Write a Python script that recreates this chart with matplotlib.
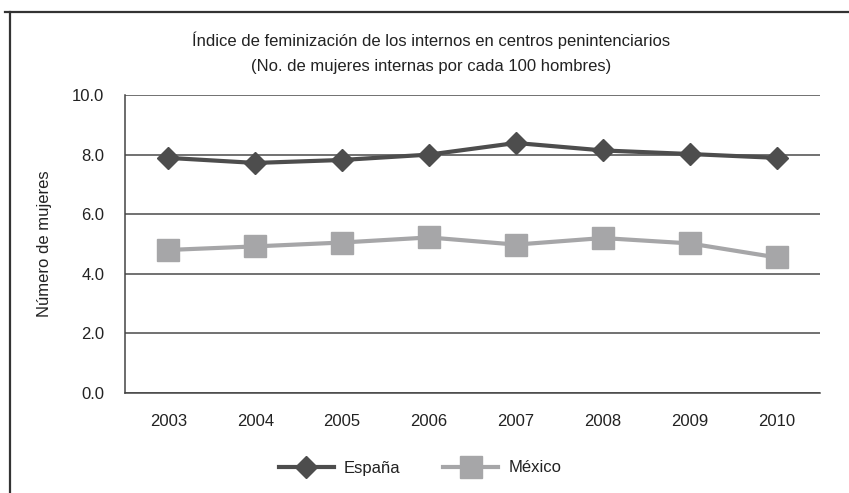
import matplotlib
matplotlib.use("Agg")
import matplotlib.pyplot as plt
from matplotlib.lines import Line2D

plt.rcParams['font.family'] = ['Liberation Sans Narrow', 'Liberation Sans', 'DejaVu Sans']

years = ["2003", "2004", "2005", "2006", "2007", "2008", "2009", "2010"]
espana = [7.89, 7.72, 7.82, 8.0, 8.39, 8.14, 8.02, 7.89]
mexico = [4.8, 4.92, 5.05, 5.22, 4.98, 5.2, 5.02, 4.55]
yticks = [0.0, 2.0, 4.0, 6.0, 8.0, 10.0]

txt = "#222222"

fig = plt.figure(figsize=(8.49, 4.93), dpi=100)
ax = fig.add_axes([125/849, 1 - 393/493, 695/849, 298/493])

x = list(range(len(years)))
ax.plot(x, espana, color="#4d4d4d", lw=3, marker="D", ms=11, label="España", zorder=3)
ax.plot(x, mexico, color="#a6a6a8", lw=3, marker="s", ms=16, label="México", zorder=3)

ax.set_xlim(-0.5, len(years) - 0.5)
ax.set_ylim(0, 10)
ax.set_yticks(yticks)
ax.set_yticklabels([f"{v:.1f}" for v in yticks])
ax.set_xticks(x)
ax.set_xticklabels(years)
ax.tick_params(length=0, labelsize=12, colors=txt)
ax.tick_params(axis="y", pad=15)
ax.tick_params(axis="x", pad=15)
ax.yaxis.grid(True, color="#4a4a4a", lw=1.1)
ax.set_axisbelow(True)
for s in ["top", "right"]:
    ax.spines[s].set_visible(False)
for s in ["left", "bottom"]:
    ax.spines[s].set_color("#444444")
    ax.spines[s].set_linewidth(1.1)

ax.set_ylabel("Número de mujeres", fontsize=12, color=txt, labelpad=14)

fig.text(431/849, 1 - 40/493, "Índice de feminización de los internos en centros penintenciarios",
         ha="center", va="center", fontsize=12, color=txt)
fig.text(431/849, 1 - 67/493, "(No. de mujeres internas por cada 100 hombres)",
         ha="center", va="center", fontsize=12, color=txt)

leg = fig.legend(loc="center", bbox_to_anchor=(420/849, 1 - 468/493), ncol=2, frameon=False,
                 fontsize=12, handlelength=3.3, columnspacing=2.6, handletextpad=0.6)
for t in leg.get_texts():
    t.set_color(txt)

# marco exterior
fig.add_artist(Line2D([5/849, 1], [1 - 12/493, 1 - 12/493], color="#333333", lw=1.6))
fig.add_artist(Line2D([10/849, 10/849], [0, 1 - 12/493], color="#333333", lw=1.6))

fig.savefig("out.png", dpi=100)
